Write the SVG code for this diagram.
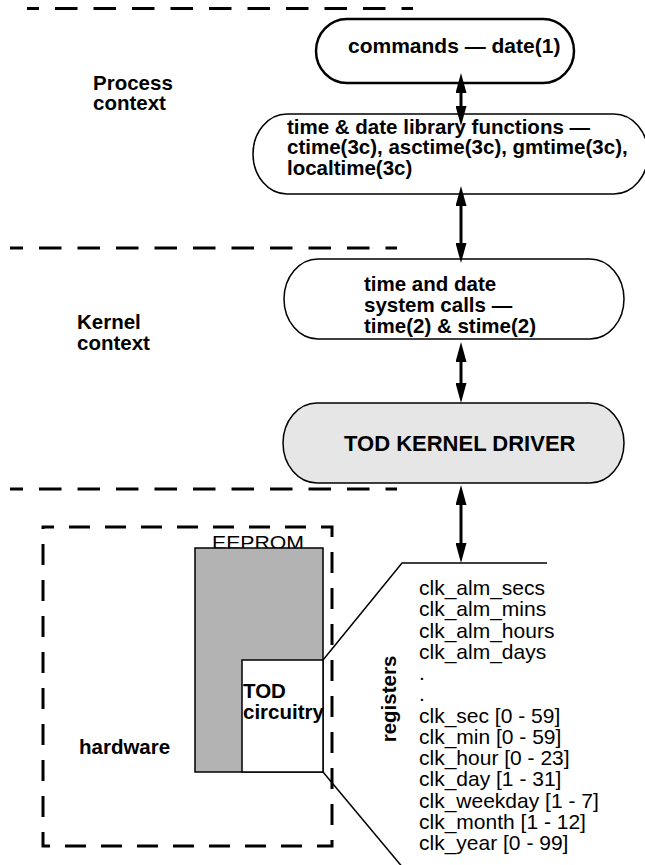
<svg xmlns="http://www.w3.org/2000/svg" width="645" height="865" viewBox="0 0 645 865">
<style>
  .b { font-family: "Liberation Sans", Arial, sans-serif; font-weight: bold; font-size: 20.5px; fill: #000; }
  .r { font-family: "Liberation Sans", Arial, sans-serif; font-size: 21px; fill: #000; }
  .node { fill: #fff; stroke: #000; stroke-width: 1.5; }
  .dash { stroke: #000; stroke-width: 3; stroke-dasharray: 22.5 16; fill: none; }
  .conn { stroke: #000; stroke-width: 3; fill: none; marker-start: url(#ah); marker-end: url(#ah); }
  .thin { stroke: #000; stroke-width: 1.5; fill: none; }
</style>
<defs>
  <marker id="ah" markerUnits="userSpaceOnUse" markerWidth="20" markerHeight="11" viewBox="0 0 20 11" refX="0" refY="5.5" orient="auto-start-reverse">
    <path d="M0,0 L20,5.5 L0,11 z" fill="#000"/>
  </marker>
</defs>
<rect width="645" height="865" fill="#fff"/>

<g id="separators">
  <line class="dash" x1="27" y1="8.5" x2="413" y2="8.5" stroke-dashoffset="10.5"/>
  <line class="dash" x1="10" y1="248" x2="397" y2="248" stroke-dashoffset="9.5"/>
  <line class="dash" x1="10" y1="489" x2="397" y2="489" stroke-dashoffset="9.5"/>
</g>

<g id="context-labels">
  <text class="b" x="93" y="89.5">Process</text>
  <text class="b" x="93" y="110">context</text>
  <text class="b" x="77" y="329">Kernel</text>
  <text class="b" x="77" y="349.5">context</text>
</g>

<g id="commands">
  <rect x="316" y="19" width="258" height="64" rx="31" ry="32" fill="#fff" stroke="#000" stroke-width="2.5"/>
  <text class="b" x="348" y="53" style="font-size:21px">commands — date(1)</text>
</g>

<g id="libfuncs">
  <rect class="node" x="253" y="114" width="395" height="80" rx="34" ry="40"/>
  <text class="b" x="287" y="133.5">time &amp; date library functions —</text>
  <text class="b" x="287" y="154">ctime(3c), asctime(3c), gmtime(3c),</text>
  <text class="b" x="287" y="174.5">localtime(3c)</text>
</g>

<g id="syscalls">
  <rect class="node" x="284" y="259" width="340" height="80" rx="34" ry="40"/>
  <text class="b" x="364" y="291">time and date</text>
  <text class="b" x="364" y="312">system calls —</text>
  <text class="b" x="364" y="333">time(2) &amp; stime(2)</text>
</g>

<g id="driver">
  <rect x="283" y="403" width="341" height="80" rx="34" ry="40" fill="#e6e6e6" stroke="#000" stroke-width="1.5"/>
  <text class="b" x="344" y="451" style="font-size:22px">TOD KERNEL DRIVER</text>
</g>

<g id="hardware">
  <rect class="dash" x="43" y="527" width="289" height="319" style="stroke-dasharray:21 15" stroke-dashoffset="10"/>
  <text class="b" x="79" y="754">hardware</text>
</g>

<g id="eeprom">
  <text class="r" x="212" y="549" style="font-size:19px" textLength="92" lengthAdjust="spacingAndGlyphs">EEPROM</text>
  <rect x="195" y="548" width="128" height="224" fill="#b3b3b3" stroke="#000" stroke-width="1.5"/>
</g>

<g id="tod-circuitry">
  <rect x="242" y="660" width="81" height="112" fill="#fff" stroke="#000" stroke-width="1.5"/>
  <text class="b" x="243" y="698">TOD</text>
  <text class="b" x="243" y="719">circuitry</text>
</g>

<g id="registers">
  <polyline class="thin" points="323,660 402,563 547,563"/>
  <line class="thin" x1="323" y1="772" x2="404" y2="869"/>
  <text class="b" transform="translate(396,699) rotate(-90)" text-anchor="middle">registers</text>
  <text class="r" x="419" y="595">clk_alm_secs</text>
  <text class="r" x="419" y="616.25">clk_alm_mins</text>
  <text class="r" x="419" y="637.5">clk_alm_hours</text>
  <text class="r" x="419" y="658.75">clk_alm_days</text>
  <text class="r" x="419" y="680">.</text>
  <text class="r" x="419" y="701.25">.</text>
  <text class="r" x="419" y="722.5">clk_sec [0 - 59]</text>
  <text class="r" x="419" y="743.75">clk_min [0 - 59]</text>
  <text class="r" x="419" y="765">clk_hour [0 - 23]</text>
  <text class="r" x="419" y="786.25">clk_day [1 - 31]</text>
  <text class="r" x="419" y="807.5">clk_weekday [1 - 7]</text>
  <text class="r" x="419" y="828.75">clk_month [1 - 12]</text>
  <text class="r" x="419" y="850">clk_year [0 - 99]</text>
</g>

<g id="connectors">
  <line class="conn" x1="461" y1="93" x2="461" y2="106"/>
  <line class="conn" x1="461" y1="206" x2="461" y2="243"/>
  <line class="conn" x1="461" y1="362" x2="461" y2="383"/>
  <line class="conn" x1="461" y1="505" x2="461" y2="543"/>
</g>
</svg>
